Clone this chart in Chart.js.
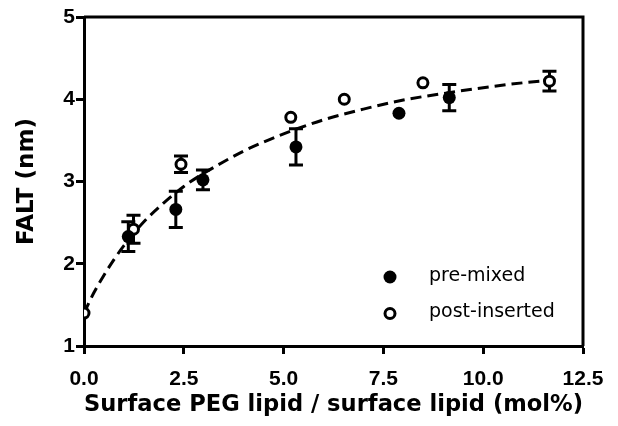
<!DOCTYPE html>
<html>
<head>
<meta charset="utf-8">
<script src="https://cdn.jsdelivr.net/npm/chart.js@4.4.1/dist/chart.umd.min.js"></script>
<style>
  html, body { margin: 0; padding: 0; background: #fff; }
</style>
</head>
<body>
<canvas id="chart" width="618" height="426"></canvas>
<script>
// pre-mixed (filled circles)
const preX = [1.11, 2.30, 2.98, 5.31, 7.89, 9.15];
const preY = [2.33, 2.66, 3.02, 3.42, 3.83, 4.02];
const preErr = [0.18, 0.22, 0.12, 0.22, 0, 0.16];

// post-inserted (open circles)
const postX = [0, 1.24, 2.43, 5.18, 6.52, 8.49, 11.66];
const postY = [1.40, 2.42, 3.21, 3.78, 4.00, 4.20, 4.22];
const postErr = [0, 0.17, 0.10, 0, 0, 0, 0.12];

// dashed fit curve
const fitX = [0, 0.25, 0.5, 0.75, 1, 1.5, 2, 2.5, 3, 3.5, 4, 4.5, 5, 6, 7, 8, 9, 10, 11, 11.7];
const fitY = [1.40, 1.65, 1.86, 2.05, 2.22, 2.51, 2.74, 2.94, 3.10, 3.24, 3.37, 3.48, 3.58, 3.75, 3.88, 3.99, 4.07, 4.14, 4.20, 4.23];

const xTicks = [0, 2.5, 5, 7.5, 10, 12.5];
const yTicks = [1, 2, 3, 4, 5];

const toPts = (xs, ys) => xs.map((x, i) => ({ x: x, y: ys[i] }));

Chart.defaults.color = '#000';

// vertical error bars with caps, drawn under the markers
const errorBars = {
    id: 'errorBars',
    beforeDatasetsDraw(chart) {
        const ctx = chart.ctx;
        const xs = chart.scales.x, ys = chart.scales.y;
        ctx.save();
        ctx.strokeStyle = '#000';
        ctx.lineWidth = 3;
        chart.data.datasets.forEach(ds => {
            if (!ds.errors) return;
            ds.data.forEach((p, i) => {
                const e = ds.errors[i];
                if (!e) return;
                const px = xs.getPixelForValue(p.x);
                const top = ys.getPixelForValue(p.y + e);
                const bot = ys.getPixelForValue(p.y - e);
                ctx.beginPath();
                ctx.moveTo(px, top); ctx.lineTo(px, bot);
                ctx.moveTo(px - 7, top); ctx.lineTo(px + 7, top);
                ctx.moveTo(px - 7, bot); ctx.lineTo(px + 7, bot);
                ctx.stroke();
            });
        });
        ctx.restore();
    }
};

// top and right sides of the box + legend in the lower right
const frameAndLegend = {
    id: 'frameAndLegend',
    afterDraw(chart) {
        const ctx = chart.ctx;
        const a = chart.chartArea;
        ctx.save();
        ctx.strokeStyle = '#000';
        ctx.lineWidth = 3;
        ctx.beginPath();
        ctx.moveTo(a.left, a.top);
        ctx.lineTo(a.right, a.top);
        ctx.lineTo(a.right, a.bottom);
        ctx.stroke();

        const items = chart.data.datasets.filter(d => d.inLegend);
        const lx = a.right - 193, ly = a.bottom - 69;
        ctx.font = '19px "DejaVu Sans"';
        ctx.textBaseline = 'middle';
        ctx.fillStyle = '#000';
        items.forEach((d, i) => {
            const y = ly + i * 36.5;
            ctx.beginPath();
            ctx.arc(lx, y, d.pointRadius, 0, Math.PI * 2);
            ctx.fillStyle = d.backgroundColor;
            ctx.fill();
            if (d.borderWidth) {
                ctx.lineWidth = d.borderWidth;
                ctx.stroke();
            }
            ctx.fillStyle = '#000';
            ctx.fillText(d.label, lx + 39, y - 1);
        });
        ctx.restore();
    }
};

new Chart(document.getElementById('chart'), {
    type: 'scatter',
    data: {
        datasets: [
            {
                label: 'pre-mixed', inLegend: true,
                data: toPts(preX, preY), errors: preErr,
                pointRadius: 6.5, pointHoverRadius: 6.5,
                backgroundColor: '#000', borderColor: '#000', borderWidth: 0
            },
            {
                label: 'post-inserted', inLegend: true,
                data: toPts(postX, postY), errors: postErr,
                pointRadius: 5, pointHoverRadius: 5,
                backgroundColor: '#fff', borderColor: '#000', borderWidth: 3
            },
            {
                label: 'fit', type: 'line',
                data: toPts(fitX, fitY),
                borderColor: '#000', borderWidth: 3, borderDash: [11, 6],
                pointRadius: 0, cubicInterpolationMode: 'monotone', fill: false
            }
        ]
    },
    options: {
        responsive: false,
        animation: false,
        events: [],
        layout: { padding: { top: 17, right: 35, left: 0, bottom: 0 } },
        plugins: { legend: { display: false }, tooltip: { enabled: false } },
        scales: {
            x: {
                type: 'linear', min: 0, max: 12.5,
                afterBuildTicks: s => { s.ticks = xTicks.map(v => ({ value: v })); },
                afterFit: s => { s.height = 80; },
                border: { display: true, color: '#000', width: 3 },
                grid: { drawOnChartArea: false, drawTicks: true, tickLength: 8, tickWidth: 3, tickColor: '#000' },
                ticks: {
                    padding: 13, maxRotation: 0,
                    font: { family: '"Liberation Sans", Arial', size: 21, weight: 'bold' },
                    callback: v => v.toFixed(1)
                },
                title: {
                    display: true, text: 'Surface PEG lipid / surface lipid (mol%)',
                    font: { family: '"DejaVu Sans"', size: 23, weight: 'bold' },
                    padding: { top: 0, bottom: 7 }
                }
            },
            y: {
                type: 'linear', min: 1, max: 5,
                afterBuildTicks: s => { s.ticks = yTicks.map(v => ({ value: v })); },
                afterFit: s => { s.width = 84; },
                border: { display: true, color: '#000', width: 3 },
                grid: { drawOnChartArea: false, drawTicks: true, tickLength: 8, tickWidth: 3, tickColor: '#000' },
                ticks: {
                    padding: 1,
                    font: { family: '"Liberation Sans", Arial', size: 21, weight: 'bold' }
                },
                title: {
                    display: true, text: 'FALT (nm)',
                    font: { family: '"DejaVu Sans"', size: 23, weight: 'bold' },
                    padding: { top: 13, bottom: 0 }
                }
            }
        }
    },
    plugins: [errorBars, frameAndLegend]
});
</script>
</body>
</html>
